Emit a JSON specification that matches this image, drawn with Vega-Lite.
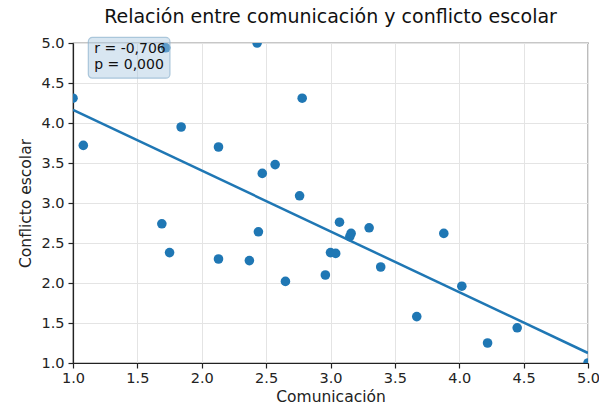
{
  "$schema": "https://vega.github.io/schema/vega-lite/v6.json",
  "autosize": "none",
  "width": 515,
  "height": 320,
  "padding": {"left": 73, "top": 43, "right": 11, "bottom": 49},
  "config": {
    "font": "DejaVu Sans",
    "view": {"stroke": "#222222", "strokeWidth": 1.2},
    "axis": {
      "labelFont": "DejaVu Sans", "labelFontSize": 14.5, "labelColor": "#222222",
      "labelFlush": false, "labelOverlap": false,
      "titleFont": "DejaVu Sans", "titleFontSize": 15.5, "titleFontWeight": "normal", "titleColor": "#222222",
      "gridColor": "#e4e4e4", "gridWidth": 1,
      "tickColor": "#222222", "tickSize": 5, "tickWidth": 1.2, "domainColor": "#222222", "domainWidth": 1.2
    }
  },
  "title": {"text": "Relación entre comunicación y conflicto escolar", "fontSize": 19, "fontWeight": "normal", "font": "DejaVu Sans", "color": "#111111", "offset": 8},
  "datasets": {
    "pts": [
      {"comunicacion": 1.0, "conflicto": 4.31},
      {"comunicacion": 1.08, "conflicto": 3.72},
      {"comunicacion": 1.72, "conflicto": 4.94},
      {"comunicacion": 1.84, "conflicto": 3.95},
      {"comunicacion": 2.13, "conflicto": 3.70},
      {"comunicacion": 2.43, "conflicto": 5.0},
      {"comunicacion": 2.78, "conflicto": 4.31},
      {"comunicacion": 2.47, "conflicto": 3.37},
      {"comunicacion": 2.57, "conflicto": 3.48},
      {"comunicacion": 2.76, "conflicto": 3.09},
      {"comunicacion": 1.69, "conflicto": 2.74},
      {"comunicacion": 1.75, "conflicto": 2.38},
      {"comunicacion": 2.13, "conflicto": 2.30},
      {"comunicacion": 2.37, "conflicto": 2.28},
      {"comunicacion": 2.44, "conflicto": 2.64},
      {"comunicacion": 2.65, "conflicto": 2.02},
      {"comunicacion": 2.96, "conflicto": 2.10},
      {"comunicacion": 3.00, "conflicto": 2.38},
      {"comunicacion": 3.04, "conflicto": 2.37},
      {"comunicacion": 3.07, "conflicto": 2.76},
      {"comunicacion": 3.15, "conflicto": 2.58},
      {"comunicacion": 3.16, "conflicto": 2.62},
      {"comunicacion": 3.30, "conflicto": 2.69},
      {"comunicacion": 3.39, "conflicto": 2.20},
      {"comunicacion": 3.67, "conflicto": 1.58},
      {"comunicacion": 3.88, "conflicto": 2.62},
      {"comunicacion": 4.02, "conflicto": 1.96},
      {"comunicacion": 4.22, "conflicto": 1.25},
      {"comunicacion": 4.45, "conflicto": 1.44},
      {"comunicacion": 5.0, "conflicto": 1.0}
    ],
    "fit": [
      {"comunicacion": 1.0, "conflicto": 4.165},
      {"comunicacion": 5.0, "conflicto": 1.125}
    ],
    "box": [
      {"comunicacion": 1.119, "comunicacion2": 1.753, "conflicto": 5.07, "conflicto2": 4.56}
    ],
    "ann": [
      {"comunicacion": 1.165, "conflicto": 4.93, "label": "r = -0,706"},
      {"comunicacion": 1.165, "conflicto": 4.72, "label": "p = 0,000"}
    ]
  },
  "encoding": {
    "x": {"field": "comunicacion", "type": "quantitative", "scale": {"domain": [1, 5], "nice": false, "zero": false}, "axis": {"title": "Comunicación", "format": ".1f", "values": [1, 1.5, 2, 2.5, 3, 3.5, 4, 4.5, 5], "labelOverlap": false, "titlePadding": 5, "labelPadding": 3}},
    "y": {"field": "conflicto", "type": "quantitative", "scale": {"domain": [1, 5], "nice": false, "zero": false}, "axis": {"title": "Conflicto escolar", "format": ".1f", "values": [1, 1.5, 2, 2.5, 3, 3.5, 4, 4.5, 5], "labelOverlap": false, "tickCount": 9, "titlePadding": 7, "labelPadding": 4}}
  },
  "layer": [
    {
      "data": {"name": "pts"},
      "mark": {"type": "point", "filled": true, "opacity": 1, "size": 92, "color": "#1f77b4", "clip": true}
    },
    {
      "data": {"name": "fit"},
      "mark": {"type": "line", "color": "#1f77b4", "strokeWidth": 2.5, "clip": true}
    },
    {
      "data": {"name": "box"},
      "mark": {"type": "rect", "fill": "#a9c8df", "fillOpacity": 0.45, "stroke": "#8fb3cf", "strokeOpacity": 0.7, "strokeWidth": 1.2, "cornerRadius": 4},
      "encoding": {
        "x2": {"field": "comunicacion2"},
        "y2": {"field": "conflicto2"}
      }
    },
    {
      "data": {"name": "ann"},
      "mark": {"type": "text", "align": "left", "baseline": "middle", "fontSize": 14, "font": "DejaVu Sans", "color": "#111111"},
      "encoding": {
        "text": {"field": "label"}
      }
    }
  ]
}
